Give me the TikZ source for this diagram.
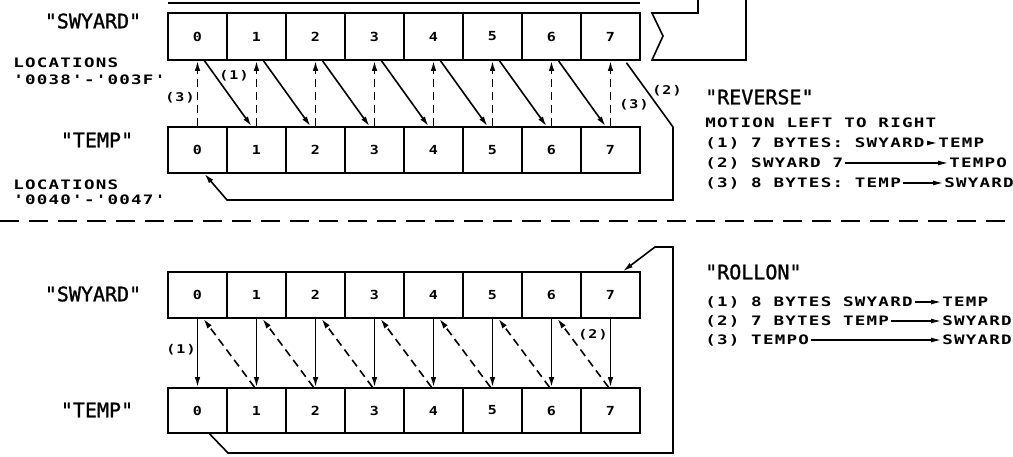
\documentclass[tikz,border=0pt]{standalone}
\usepackage{fontspec}
\setmainfont{DejaVu Sans Mono}
\newfontfamily\lero[LetterSpace=7]{DejaVu Sans Mono}
\newfontfamily\titlef{DejaVu Sans Mono}
\newfontfamily\titlefb[FakeBold=1.2]{DejaVu Sans Mono}
\usetikzlibrary{arrows.meta}
\tikzset{
  cell/.style={draw, line width=1.6pt, minimum width=59pt, minimum height=46pt, inner sep=0pt},
  digit/.style={font=\titlef\bfseries\fontsize{12.5}{14}\selectfont, inner sep=0pt, xscale=1.2, transform shape},
  ttl/.style={font=\titlefb\fontsize{20}{22}\selectfont, inner sep=0pt},
  body/.style={font=\lero\bfseries\fontsize{13}{15}\selectfont, inner sep=0pt, anchor=west, xscale=1.35, transform shape},
  lab/.style={font=\lero\bfseries\fontsize{12}{14}\selectfont, inner sep=0pt, xscale=1.25, transform shape},
  conn/.style={line width=1.6pt, -{Latex[length=10pt,width=5.5pt]}},
  dconn/.style={conn, dash pattern=on 8pt off 5pt},
  tarrow/.style={line width=1.2pt, -{Latex[length=10pt,width=5pt]}, shorten <=2pt, shorten >=1pt},
  frame/.style={line width=1.6pt},
}
\begin{document}
\begin{tikzpicture}[x=1pt,y=-1pt]
\useasboundingbox (0,0) rectangle (1013,456);
% cells
\foreach \i in {0,...,7}{
  \node[cell, minimum height=47pt] (ts\i) at (197.5+59*\i,36.5) {};
  \node[digit] (tsd\i) at (ts\i) {\i};
  \node[cell] (tt\i) at (197.5+59*\i,150) {};
  \node[digit] (ttd\i) at (tt\i) {\i};
  \node[cell] (bs\i) at (197.5+59*\i,295) {};
  \node[digit] (bsd\i) at (bs\i) {\i};
  \node[cell, minimum height=45pt] (bt\i) at (197.5+59*\i,410.5) {};
  \node[digit] (btd\i) at (bt\i) {\i};
}
% remnants at the top
\draw[frame] (168,3) -- (640,3);
\draw[frame] (698,0) -- (698,13) -- (652,13) -- (663,36) -- (652,60) -- (746,60) -- (746,0);
% left labels
\node[ttl] (l1) at (93,21) {"SWYARD"};
\node[ttl] (l2) at (97,140) {"TEMP"};
\node[ttl] (l3) at (93,294) {"SWYARD"};
\node[ttl] (l4) at (97,410) {"TEMP"};
\node[body] (loc1) at (13,63) {LOCATIONS};
\node[body] (loc1b) at (13,80) {'0038'-'003F'};
\node[body] (loc2) at (13,185) {LOCATIONS};
\node[body] (loc2b) at (13,200) {'0040'-'0047'};
% top section arrows
\foreach \i [evaluate=\i as \j using int(\i+1)] in {0,...,6}{
  \draw[conn] ([xshift=7pt]ts\i.south) -- ([xshift=-5pt]tt\j.north);
}
\foreach \i in {0,...,7}{
  \draw[dconn] (tt\i.north) -- (ts\i.south);
}
\coordinate (p1) at (673,127);
\coordinate (p2) at (673,200);
\coordinate (p3) at (227,200);
\draw[conn] ([xshift=16pt,yshift=-2pt]ts7.south) -- (p1) -- (p2) -- (p3) -- ([xshift=7pt]tt0.south);
\node[lab] (n1) at (234,76) {(1)};
\node[lab] (n3) at (180,98) {(3)};
\node[lab] (n3b) at (634,105) {(3)};
\node[lab] (n2) at (667,91) {(2)};
% separator
\draw[line width=1.6pt, dash pattern=on 19pt off 10pt] (0,221) -- (1013,221);
% bottom section arrows
\foreach \i in {0,...,7}{
  \draw[conn] (bs\i.south) -- (bt\i.north);
}
\foreach \i [evaluate=\i as \j using int(\i+1)] in {0,...,6}{
  \draw[dconn] ([xshift=-2pt]bt\j.north) -- ([xshift=6pt]bs\i.south);
}
\coordinate (q1) at (228,453);
\coordinate (q2) at (673,453);
\coordinate (q3) at (673,247);
\coordinate (q4) at (655,247);
\draw[conn] ([xshift=12pt]bt0.south) -- (q1) -- (q2) -- (q3) -- (q4) -- ([xshift=12.5pt]bs7.north);
\node[lab] (m1) at (181,350) {(1)};
\node[lab] (m2) at (593,335) {(2)};
% right texts: REVERSE
\node[ttl, anchor=west] (rev) at (705,97) {"REVERSE"};
\node[body] (mot) at (705,123) {MOTION LEFT TO RIGHT};
\node[body] (a1) at (705,143) {(1) 7 BYTES: SWYARD};
\node[body] (b1) at (938,143) {TEMP};
\node[body] (a2) at (705,163) {(2) SWYARD 7};
\node[body] (b2) at (949,163) {TEMPO};
\node[body] (a3) at (705,183) {(3) 8 BYTES: TEMP};
\node[body] (b3) at (944,183) {SWYARD};
\draw[tarrow] (a1.east) -- (b1.west);
\draw[tarrow] (a2.east) -- (b2.west);
\draw[tarrow] (a3.east) -- (b3.west);
% ROLLON
\node[ttl, anchor=west] (rol) at (705,272) {"ROLLON"};
\node[body] (c1) at (705,302) {(1) 8 BYTES SWYARD};
\node[body] (d1) at (942,302) {TEMP};
\node[body] (c2) at (705,321) {(2) 7 BYTES TEMP};
\node[body] (d2) at (942,321) {SWYARD};
\node[body] (c3) at (705,340) {(3) TEMPO};
\node[body] (d3) at (942,340) {SWYARD};
\draw[tarrow] (c1.east) -- (d1.west);
\draw[tarrow] (c2.east) -- (d2.west);
\draw[tarrow] (c3.east) -- (d3.west);
\end{tikzpicture}
\end{document}
